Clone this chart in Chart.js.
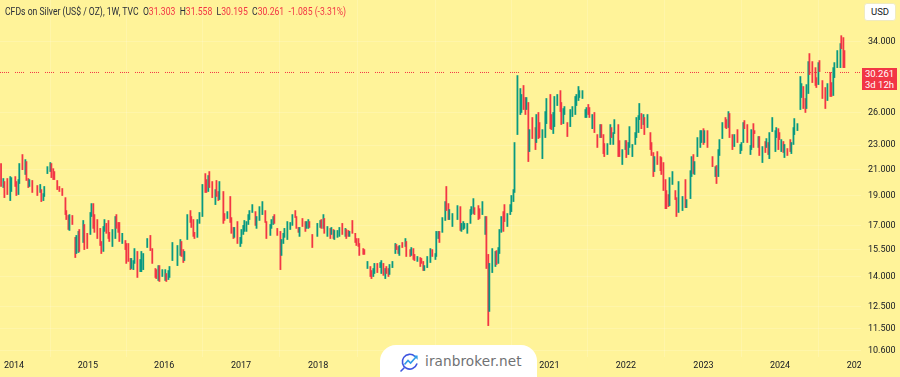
<!DOCTYPE html>
<html>
<head>
<meta charset="utf-8">
<title>CFDs on Silver</title>
<script src="https://cdn.jsdelivr.net/npm/chart.js@4"></script>
<style>
    html, body { margin: 0; padding: 0; background: #fff399; }
    #wrap { position: relative; width: 900px; height: 377px; overflow: hidden; font-family: Roboto, sans-serif; }
    #legend { position: absolute; left: 5px; top: 5px; font-size: 10.4px; line-height: 13px; color: #2a2e39; white-space: pre; transform: scaleX(0.83); transform-origin: left top; }
    #legend b { font-weight: 400; color: #f23645; }
    #usd { position: absolute; left: 864px; top: 3px; width: 32px; height: 18px; background: #fff; border: 1px solid #f0ebc0; box-sizing: border-box; border-radius: 3px; text-align: center; font-size: 9.5px; line-height: 16px; color: #131722; }
    #lastPrice { position: absolute; left: 862px; top: 68px; width: 35px; height: 22px; background: #f23645; color: #fff; font-size: 9.5px; line-height: 10.5px; text-align: center; padding-top: 1px; box-sizing: border-box; }
    #brand { position: absolute; left: 380px; top: 345px; width: 157px; height: 32px; background: #fff; border-radius: 16px 16px 0 0; }
    #brand svg { position: absolute; left: 20px; top: 7px; }
    #brand span { position: absolute; left: 45px; top: 6px; font-family: "DejaVu Sans", sans-serif; font-size: 13.6px; line-height: 20px; color: #6f7173; letter-spacing: 0.1px; }
</style>
</head>
<body>
<div id="wrap">
    <canvas id="silverChart" width="900" height="377"></canvas>
    <div id="legend"></div>
    <div id="usd">USD</div>
    <div id="lastPrice"></div>
    <div id="brand">
        <svg width="20" height="20" viewBox="0 0 20 20" fill="none">
            <path d="M15 4.5A7.4 7.4 0 1 0 16.8 12" stroke="#3f55e0" stroke-width="1.6" stroke-linecap="round"/>
            <path d="M4.5 12.5L8 8.5l2.6 2.6L16 5" stroke="#2f9be8" stroke-width="1.6" fill="none"/>
            <path d="M13.4 3.6h4.2v4.2z" fill="#2f9be8"/>
            <path d="M1 19l3-3" stroke="#3f55e0" stroke-width="1.6" stroke-linecap="round"/>
        </svg>
        <span>iranbroker.net</span>
    </div>
</div>
<script>
// Weekly silver candles, days counted from the first of January 2014
const days = [
    -62, -51, -46, -32, -18, -13, 6, 11, 21, 25, 40, 54, 59, 68, 73, 87, 111, 125, 130, 140, 144, 159, 173, 178, 187, 192, 206, 216, 230, 245,
    249, 259, 264, 278, 292, 297, 307, 311, 330, 335, 349, 364, 369, 378, 383, 397, 411, 416, 426, 431, 440, 450, 454, 469, 483, 488, 497, 502, 516, 531,
    535, 545, 555, 559, 569, 574, 588, 602, 607, 616, 635, 650, 659, 674, 678, 688, 693, 707, 721, 726, 736, 741, 755, 779, 793, 798, 807, 812, 826, 841,
    845, 855, 860, 874, 884, 898, 912, 917, 926, 931, 945, 960, 965, 974, 979, 998, 1003, 1017, 1031, 1036, 1046, 1050, 1065, 1079, 1084, 1093, 1098, 1108, 1117, 1122,
    1136, 1151, 1156, 1170, 1184, 1198, 1203, 1222, 1227, 1236, 1241, 1255, 1270, 1275, 1284, 1289, 1303, 1317, 1327, 1341, 1346, 1356, 1361, 1375, 1389, 1394, 1403, 1408, 1422, 1446,
    1460, 1465, 1475, 1479, 1494, 1508, 1513, 1523, 1527, 1542, 1551, 1565, 1580, 1584, 1594, 1599, 1613, 1627, 1632, 1642, 1646, 1665, 1670, 1685, 1699, 1704, 1713, 1718, 1732, 1746,
    1751, 1761, 1770, 1775, 1785, 1790, 1804, 1818, 1823, 1832, 1837, 1851, 1866, 1870, 1889, 1894, 1904, 1909, 1923, 1937, 1942, 1951, 1956, 1970, 1985, 1994, 2009, 2013, 2023, 2028,
    2042, 2056, 2061, 2071, 2075, 2090, 2114, 2128, 2133, 2142, 2147, 2161, 2176, 2180, 2190, 2195, 2214, 2219, 2233, 2247, 2252, 2261, 2266, 2280, 2295, 2300, 2309, 2314, 2323, 2333,
    2338, 2352, 2366, 2371, 2381, 2386, 2400, 2414, 2419, 2429, 2438, 2443, 2452, 2457, 2471, 2486, 2490, 2500, 2505, 2519, 2533, 2538, 2557, 2562, 2571, 2576, 2590, 2605, 2609, 2619,
    2624, 2638, 2652, 2662, 2676, 2681, 2691, 2695, 2710, 2724, 2729, 2738, 2743, 2757, 2767, 2781, 2795, 2800, 2810, 2814, 2829, 2843, 2848, 2857, 2862, 2881, 2886, 2900, 2915, 2919,
    2929, 2934, 2948, 2962, 2967, 2977, 2981, 2991, 3001, 3005, 3020, 3034, 3039, 3048, 3053, 3067, 3082, 3086, 3096, 3106, 3110, 3120, 3125, 3139, 3153, 3158, 3168, 3187, 3201, 3206,
    3225, 3230, 3239, 3244, 3258, 3272, 3277, 3287, 3291, 3306, 3330, 3344, 3349, 3358, 3363, 3377, 3392, 3396, 3406, 3411, 3425, 3434, 3449, 3463, 3468, 3477, 3482, 3496, 3511, 3515,
    3525, 3530, 3549, 3553, 3568, 3582, 3587, 3596, 3601, 3615, 3630, 3634, 3644, 3649, 3658, 3668, 3673, 3687, 3701, 3706, 3716, 3720, 3735, 3749, 3754, 3763, 3773, 3778, 3787, 3792,
    3806, 3821, 3825, 3835, 3840, 3854, 3868, 3878, 3892, 3897, 3906, 3911, 3925, 3940, 3944, 3954, 3959
];
const highs = [
    21.46, 20.28, 20.05, 20.28, 20.43, 20.35, 20.43, 20.05, 20.20, 21.46, 22.20, 21.78, 21.62, 20.28, 20.20, 20.13, 19.75, 19.83, 19.45, 19.16, 19.68, 21.21, 21.54, 21.46, 21.05, 20.82, 20.13, 19.68, 19.53, 18.87,
    17.97, 17.64, 17.70, 17.64, 16.24, 16.36, 16.61, 16.73, 17.31, 17.05, 16.49, 17.84, 18.45, 18.45, 17.70, 17.37, 16.80, 15.99, 16.92, 17.37, 17.12, 17.31, 16.55, 16.73, 17.57, 17.70, 17.18, 17.18, 16.49, 16.05,
    15.87, 15.87, 15.00, 15.00, 14.88, 15.57, 15.40, 14.94, 15.40, 15.28, 16.17, 16.36, 15.57, 14.44, 14.38, 14.60, 14.60, 14.38, 14.38, 14.17, 14.33, 14.55, 15.93, 15.75, 16.11, 15.99, 15.51, 15.40, 17.70, 17.97,
    17.57, 17.37, 16.55, 17.37, 17.84, 19.83, 20.66, 20.20, 20.51, 20.82, 20.05, 19.45, 20.13, 19.31, 20.05, 19.31, 17.77, 17.90, 18.95, 17.50, 16.86, 16.86, 17.24, 16.24, 16.73, 16.99, 17.31, 17.24, 17.70, 17.97,
    18.38, 17.90, 17.57, 18.24, 18.59, 17.97, 17.24, 17.05, 17.37, 17.57, 17.70, 16.80, 16.61, 16.11, 16.49, 16.80, 17.24, 17.18, 17.70, 17.97, 17.57, 16.86, 16.86, 17.44, 17.24, 17.24, 17.37, 17.24, 16.42, 17.12,
    17.31, 17.37, 17.70, 17.44, 16.92, 16.80, 16.86, 16.73, 16.67, 16.67, 16.86, 17.12, 16.80, 16.73, 16.67, 16.61, 17.31, 16.49, 16.17, 16.17, 15.87, 15.57, 15.51, 14.83, 14.55, 14.33, 14.44, 14.72, 14.72, 14.77,
    14.88, 14.72, 14.44, 14.55, 14.44, 14.66, 14.83, 15.87, 15.81, 15.69, 15.75, 15.93, 16.17, 15.99, 15.51, 15.63, 15.57, 15.23, 15.11, 15.05, 15.00, 14.83, 14.60, 15.11, 15.57, 15.51, 15.28, 16.61, 16.61, 16.61,
    17.50, 18.59, 19.68, 18.45, 18.04, 17.77, 18.31, 18.24, 17.12, 17.24, 17.12, 17.12, 18.04, 18.24, 18.80, 18.17, 18.31, 18.10, 18.59, 17.57, 17.57, 15.23, 14.72, 15.57, 15.40, 15.45, 15.63, 16.73, 17.57, 17.90,
    18.38, 17.77, 18.38, 19.02, 19.45, 23.23, 29.91, 28.48, 27.85, 28.81, 27.53, 27.53, 27.02, 24.39, 25.53, 24.58, 25.82, 26.02, 25.05, 24.39, 26.11, 27.43, 27.85, 25.82, 26.02, 27.64, 27.85, 28.26, 27.02, 26.41,
    26.61, 25.05, 26.31, 26.61, 27.64, 27.85, 28.70, 28.26, 28.26, 26.31, 26.51, 26.82, 26.51, 25.82, 26.02, 23.94, 24.86, 24.86, 23.94, 23.14, 23.14, 24.86, 24.58, 24.12, 25.33, 24.86, 23.40, 22.62, 23.40, 23.40,
    23.23, 24.67, 23.06, 24.12, 25.53, 25.72, 26.92, 25.92, 25.82, 25.53, 25.82, 24.12, 23.23, 22.37, 22.03, 22.45, 22.03, 21.95, 21.54, 20.20, 19.38, 19.09, 20.35, 20.82, 19.38, 18.87, 20.05, 18.95, 20.20, 18.73,
    20.89, 22.03, 22.20, 21.62, 23.67, 24.30, 24.30, 24.48, 24.30, 24.30, 22.03, 21.21, 21.30, 22.62, 23.49, 25.05, 25.53, 25.33, 26.11, 25.92, 23.94, 23.94, 24.39, 23.06, 23.23, 25.05, 25.24, 24.86, 22.97, 24.39,
    24.95, 24.30, 23.76, 23.76, 22.88, 23.32, 23.58, 23.23, 24.12, 25.53, 24.30, 24.58, 24.48, 24.12, 23.49, 23.32, 23.06, 22.71, 23.49, 23.23, 24.58, 25.43, 24.95, 29.80, 29.02, 28.70, 27.43, 28.91, 31.53, 32.50,
    31.53, 30.82, 29.68, 31.41, 31.65, 29.35, 28.59, 29.02, 30.25, 29.13, 30.82, 31.41, 32.87, 33.75, 34.77, 34.52, 32.87
];
const lows = [
    19.68, 19.60, 18.87, 19.09, 18.66, 19.31, 19.68, 19.02, 19.09, 19.90, 20.97, 20.59, 20.13, 19.60, 19.68, 19.24, 19.02, 19.24, 18.59, 18.66, 18.95, 20.66, 20.82, 20.35, 20.20, 20.20, 19.45, 19.31, 19.02, 17.70,
    17.37, 16.73, 16.67, 17.05, 15.05, 15.28, 15.34, 15.40, 15.93, 15.51, 15.57, 16.42, 17.57, 16.80, 16.55, 16.17, 15.75, 15.28, 15.40, 16.61, 16.49, 16.17, 15.99, 15.69, 16.17, 16.80, 16.55, 15.99, 15.87, 15.51,
    14.72, 14.83, 14.38, 14.44, 14.38, 14.72, 13.96, 14.27, 14.27, 14.38, 15.63, 15.45, 14.72, 13.96, 13.90, 13.80, 13.75, 14.01, 13.80, 13.75, 13.85, 13.96, 14.88, 14.60, 15.17, 15.11, 14.77, 14.88, 16.11, 17.18,
    16.86, 16.30, 16.17, 16.24, 17.12, 17.57, 19.24, 19.24, 19.31, 19.60, 18.87, 18.38, 18.95, 18.66, 18.73, 17.12, 17.31, 17.44, 17.18, 16.49, 16.17, 16.24, 15.87, 15.69, 15.87, 16.42, 16.61, 16.61, 17.05, 17.37,
    17.84, 16.99, 16.80, 17.31, 17.70, 17.18, 16.17, 16.36, 16.80, 17.05, 17.12, 16.36, 14.38, 15.17, 15.87, 16.24, 16.11, 16.73, 16.99, 17.50, 16.80, 16.55, 16.30, 16.92, 16.61, 16.80, 16.80, 16.86, 15.63, 16.30,
    16.86, 16.80, 16.80, 16.49, 16.30, 16.17, 16.42, 16.17, 16.11, 16.24, 16.30, 16.42, 16.30, 16.17, 16.30, 16.30, 16.49, 15.93, 15.75, 15.69, 15.17, 15.23, 15.23, 14.44, 14.01, 13.90, 14.01, 14.17, 14.22, 14.49,
    14.17, 14.07, 13.90, 14.17, 14.01, 14.12, 14.49, 15.28, 15.51, 15.28, 15.17, 15.63, 15.69, 15.11, 15.11, 15.17, 14.94, 14.88, 14.83, 14.55, 14.72, 14.33, 14.33, 14.49, 14.77, 15.11, 14.94, 15.11, 16.17, 15.93,
    16.55, 17.31, 17.97, 17.37, 17.37, 16.92, 17.37, 16.67, 16.61, 16.73, 16.80, 16.49, 17.12, 17.70, 17.77, 17.70, 17.37, 17.44, 17.70, 16.42, 14.44, 11.64, 12.28, 14.22, 14.55, 14.66, 14.72, 15.28, 16.55, 16.61,
    17.24, 16.92, 17.70, 17.90, 18.59, 19.24, 23.94, 25.82, 26.02, 26.31, 25.82, 26.31, 21.62, 22.45, 23.58, 22.62, 23.23, 23.58, 23.67, 21.86, 23.67, 24.95, 24.48, 24.39, 24.03, 24.67, 26.71, 26.11, 24.86, 24.95,
    25.82, 23.76, 24.67, 25.62, 25.82, 26.71, 27.22, 27.53, 27.43, 25.53, 25.53, 25.82, 25.53, 24.48, 24.12, 22.80, 23.67, 23.67, 22.28, 22.03, 22.20, 23.06, 23.67, 23.06, 24.03, 22.03, 22.03, 21.38, 22.62, 21.95,
    22.20, 22.80, 22.03, 23.06, 23.67, 24.12, 25.33, 24.48, 24.86, 23.94, 24.58, 22.62, 22.12, 20.43, 20.82, 21.38, 20.89, 20.59, 19.38, 18.10, 18.10, 18.24, 18.31, 19.83, 18.73, 17.57, 17.84, 17.97, 18.17, 18.17,
    18.80, 20.43, 20.66, 20.59, 22.03, 22.80, 23.23, 23.06, 23.23, 22.80, 21.21, 20.43, 19.90, 20.43, 22.12, 23.58, 24.58, 24.48, 24.58, 23.67, 22.62, 22.88, 23.23, 22.28, 22.54, 23.23, 24.48, 23.23, 22.20, 22.62,
    22.80, 24.03, 22.80, 22.12, 21.54, 22.37, 22.80, 22.20, 21.86, 24.21, 22.45, 23.67, 22.62, 23.49, 22.45, 22.37, 21.95, 22.12, 22.45, 22.28, 23.06, 23.94, 24.30, 26.31, 27.53, 26.41, 26.02, 26.41, 27.95, 30.02,
    29.13, 28.81, 28.59, 28.91, 30.36, 27.43, 26.41, 27.22, 27.64, 27.64, 27.74, 29.68, 30.82, 30.82, 33.11, 30.82, 30.82
];
// 1 closes above its open, 0 closes below
const rising = [
    0, 1, 0, 0, 1, 1, 0, 0, 1, 1, 0, 1, 0, 0, 1, 0, 0, 1, 0, 1, 1, 1, 1, 0, 0, 0, 0, 0, 0, 0,
    0, 0, 1, 0, 0, 1, 1, 0, 1, 0, 0, 1, 1, 0, 0, 0, 0, 0, 1, 1, 0, 0, 0, 1, 1, 0, 0, 0, 1, 0,
    0, 0, 0, 1, 1, 1, 0, 1, 1, 1, 1, 0, 0, 0, 0, 1, 0, 1, 1, 0, 1, 1, 1, 1, 1, 0, 0, 1, 1, 0,
    0, 0, 0, 1, 1, 1, 0, 0, 1, 0, 0, 1, 0, 0, 1, 0, 0, 1, 0, 0, 0, 1, 0, 1, 1, 1, 1, 1, 1, 1,
    1, 0, 1, 1, 1, 0, 0, 1, 1, 1, 0, 0, 0, 1, 1, 1, 1, 1, 1, 0, 0, 0, 1, 0, 0, 1, 1, 0, 0, 1,
    1, 0, 1, 0, 1, 0, 1, 0, 1, 1, 1, 0, 1, 0, 0, 1, 0, 0, 0, 0, 0, 0, 0, 1, 0, 0, 1, 1, 0, 1,
    1, 0, 1, 0, 0, 1, 1, 1, 0, 0, 1, 0, 1, 0, 0, 1, 0, 0, 1, 0, 0, 0, 1, 1, 1, 0, 1, 1, 1, 0,
    1, 1, 0, 0, 1, 1, 1, 0, 1, 1, 1, 1, 1, 1, 1, 0, 0, 0, 1, 1, 0, 0, 1, 1, 1, 0, 1, 1, 1, 0,
    0, 1, 1, 1, 1, 1, 1, 1, 1, 0, 0, 1, 0, 1, 0, 0, 1, 0, 0, 1, 1, 1, 0, 0, 1, 1, 1, 0, 0, 1,
    1, 0, 1, 1, 1, 1, 1, 1, 1, 1, 1, 0, 0, 1, 0, 0, 1, 0, 0, 0, 1, 1, 0, 1, 1, 0, 0, 1, 1, 0,
    1, 1, 1, 1, 1, 1, 1, 0, 1, 0, 1, 0, 0, 0, 1, 0, 0, 0, 0, 0, 0, 0, 1, 1, 0, 0, 1, 1, 0, 1,
    1, 1, 0, 1, 1, 1, 1, 0, 1, 0, 0, 1, 0, 1, 1, 1, 0, 0, 1, 0, 0, 1, 0, 1, 1, 1, 0, 0, 1, 1,
    0, 0, 1, 0, 1, 0, 1, 0, 1, 1, 1, 1, 0, 0, 1, 0, 1, 0, 0, 1, 1, 1, 1, 1, 1, 0, 0, 1, 1, 0,
    0, 0, 0, 1, 0, 0, 0, 1, 0, 0, 1, 1, 1, 1, 0, 0, 0
];

const yearLabels = ['2014', '2015', '2016', '2017', '2018', '2019', '2020', '2021', '2022', '2023', '2024', '2025'];
const yearStarts = [0, 352, 716, 1082, 1450, 1826, 2191, 2552, 2917, 3287, 3652, 4018];
const priceTicks = [34, 26, 23, 21, 19, 17, 15.5, 14, 12.5, 11.5, 10.6];

const lastPrice = 30.261;
const lastOHLC = [['O', '31.303'], ['H', '31.558'], ['L', '30.195'], ['C', '30.261']];

const UP = '#089981';
const DOWN = '#f23645';
const PAPER = '#fff399';
const INK = '#131722';

// Header text and price tag
document.getElementById('legend').innerHTML =
    'CFDs on Silver (US$ / OZ), 1W, TVC  ' +
    lastOHLC.map(p => p[0] + '<b>' + p[1] + '</b>').join('  ') +
    '  <b>-1.085 (-3.31%)</b>';
document.getElementById('lastPrice').innerHTML = lastPrice.toFixed(3) + '<br>3d 12h';

// Covers the part of the time axis that runs under the price pane
const pricePane = {
    id: 'pricePane',
    afterDatasetsDraw(chart) {
        const { ctx, chartArea, width, height } = chart;
        ctx.save();
        ctx.fillStyle = PAPER;
        ctx.fillRect(chartArea.right, 0, width - chartArea.right, height);
        ctx.restore();
    }
};

const xMin = -67;
const xMax = 4038;

new Chart(document.getElementById('silverChart'), {
    data: {
        datasets: [
            {
                type: 'bar',
                order: 1,
                data: days.map((d, i) => ({ x: d, y: [lows[i], highs[i]] })),
                backgroundColor: rising.map(r => (r ? UP : DOWN)),
                borderWidth: 0,
                barThickness: 1.15
            },
            {
                type: 'line',
                order: 2,
                data: [{ x: xMin, y: lastPrice }, { x: xMax, y: lastPrice }],
                borderColor: DOWN,
                borderWidth: 1,
                borderDash: [1, 1, 1, 1, 1, 1, 1, 1, 1, 6],
                pointRadius: 0,
                tension: 0
            }
        ]
    },
    options: {
        responsive: false,
        animation: false,
        layout: { padding: 0 },
        plugins: {
            legend: { display: false },
            tooltip: { enabled: false },
            title: { display: false }
        },
        scales: {
            x: {
                type: 'linear',
                offset: false,
                min: xMin,
                max: xMax,
                afterBuildTicks: scale => {
                    scale.ticks = yearStarts.map(v => ({ value: v }));
                },
                afterFit: scale => {
                    scale.height = 20;
                    scale.paddingLeft = 0;
                    scale.paddingRight = 0;
                },
                grid: { color: 'rgba(255,255,255,0.16)', drawTicks: false },
                border: { display: false },
                ticks: {
                    color: INK,
                    font: { family: 'Roboto', size: 9 },
                    padding: 3,
                    maxRotation: 0,
                    autoSkip: false,
                    callback: value => yearLabels[yearStarts.indexOf(value)]
                }
            },
            y: {
                type: 'logarithmic',
                position: 'right',
                min: 10.34,
                max: 39.78,
                afterBuildTicks: scale => {
                    scale.ticks = priceTicks.map(v => ({ value: v }));
                },
                afterFit: scale => {
                    scale.width = 39;
                    scale.paddingTop = 0;
                    scale.paddingBottom = 0;
                },
                grid: { color: 'rgba(255,255,255,0.16)', drawTicks: false },
                border: { display: false },
                ticks: {
                    z: 1,
                    color: INK,
                    font: { family: 'Roboto', size: 9 },
                    padding: 7,
                    autoSkip: false,
                    callback: value => value.toFixed(3)
                }
            }
        }
    },
    plugins: [pricePane]
});
</script>
</body>
</html>
